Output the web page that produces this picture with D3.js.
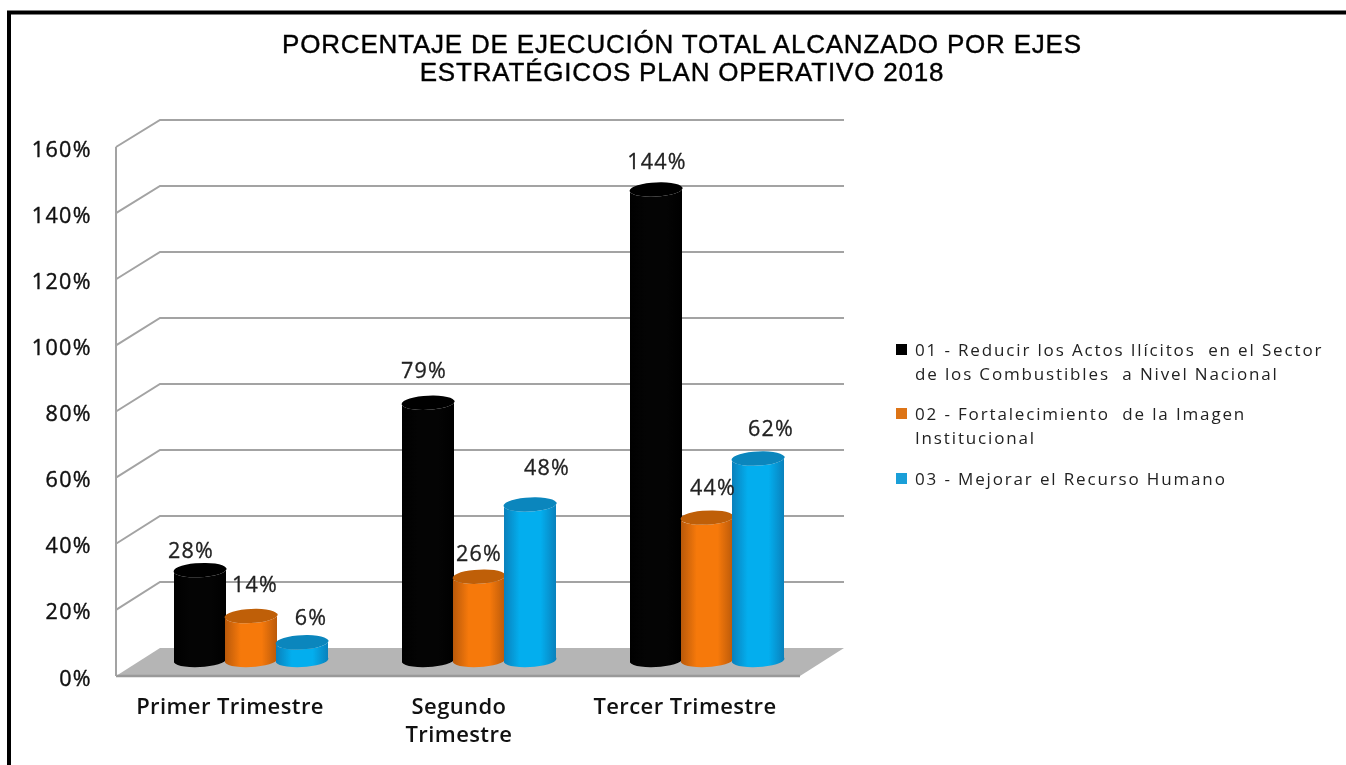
<!DOCTYPE html>
<html>
<head>
<meta charset="utf-8" />
<title>Porcentaje de ejecución</title>
<script src="https://cdn.jsdelivr.net/npm/d3@7"></script>
<style>
  html, body { margin: 0; padding: 0; background: #fff; }
  svg { display: block; filter: blur(0.45px); }
</style>
</head>
<body>
<script>
var titleLines = ["PORCENTAJE DE EJECUCIÓN TOTAL ALCANZADO POR EJES", "ESTRATÉGICOS PLAN OPERATIVO 2018"];
var categories = ["Primer Trimestre", "Segundo Trimestre", "Tercer Trimestre"];
var categoryLines = [["Primer Trimestre"], ["Segundo", "Trimestre"], ["Tercer Trimestre"]];
var seriesKeys = ["s01", "s02", "s03"];
var seriesLabels = [
  ["01 - Reducir los Actos Ilícitos  en el Sector", "de los Combustibles  a Nivel Nacional"],
  ["02 - Fortalecimiento  de la Imagen", "Institucional"],
  ["03 - Mejorar el Recurso Humano"]
];
var s01 = [28, 79, 144];
var s02 = [14, 26, 44];
var s03 = [6, 48, 62];
var yTicks = [0, 20, 40, 60, 80, 100, 120, 140, 160];

var w = 1346, h = 765;
var values = [s01, s02, s03];

// 3 colours per series: edge of the cylinder, middle of it, and the lid
var colors = [
  { edge: "#000000", mid: "#040404", lid: "#000000", key: "#000000" },
  { edge: "#b9590a", mid: "#f6790b", lid: "#bf5f08", key: "#dd7416" },
  { edge: "#0a80bb", mid: "#03aeee", lid: "#0b86bd", key: "#1a9fd8" }
];

// label nudges, the labels in the picture are hand placed around the bars
var labelDx = [[-9, 4, 9], [-4, 0, 17], [1, 6, 13]];
var labelDy = [[-1, -13, -6], [-14, -5, -19], [-10, -12, -12]];
var xLabelDx = [-21, -20, -22];

var frontY = d3.scaleLinear().domain([0, 160]).range([676, 147]);
var backY = d3.scaleLinear().domain([0, 160]).range([648, 120]);
var barY = d3.scaleLinear().domain([0, 160]).range([662, 137]);
var x0 = d3.scaleBand().domain(categories).range([137, 821]);
var x1 = d3.scaleBand().domain(seriesKeys).range([-76.5, 76.5]);

var svg = d3.select("body").append("svg")
  .attr("width", w)
  .attr("height", h);

var defs = svg.append("defs");
colors.forEach(function(c, i) {
  var g = defs.append("linearGradient").attr("id", "cyl" + i);
  g.append("stop").attr("offset", "0%").attr("stop-color", c.edge);
  g.append("stop").attr("offset", "30%").attr("stop-color", c.mid);
  g.append("stop").attr("offset", "70%").attr("stop-color", c.mid);
  g.append("stop").attr("offset", "100%").attr("stop-color", c.edge);
});

// outer frame, only top and left show
svg.append("path")
  .attr("d", "M9,765V12.5H1346")
  .attr("fill", "none")
  .attr("stroke", "#000")
  .attr("stroke-width", 4);

// title
svg.append("g").selectAll("text")
  .data(titleLines)
  .enter().append("text")
  .attr("x", 682)
  .attr("y", function(d, i) { return 53 + i * 28; })
  .attr("text-anchor", "middle")
  .style("font-family", "'Liberation Sans', Arial, sans-serif")
  .style("font-size", "26px")
  .style("letter-spacing", "0.8px")
  .attr("fill", "#000")
  .attr("stroke", "#000")
  .attr("stroke-width", 0.4)
  .text(function(d) { return d; });

// floor
var fl = backY(0), fr = frontY(0);
svg.append("path")
  .attr("d", "M116," + fr + "L160," + fl + "H844L800," + fr + "Z")
  .attr("fill", "#b5b5b5");
svg.append("path")
  .attr("d", "M116," + fr + "H800")
  .attr("stroke", "#999")
  .attr("stroke-width", 2.5)
  .attr("fill", "none");

// wall grid
var grid = svg.append("g").attr("fill", "none").attr("stroke", "#a3a3a3").attr("stroke-width", 2);
grid.selectAll("path.wall")
  .data(yTicks.slice(1))
  .enter().append("path")
  .attr("class", "wall")
  .attr("d", function(d) {
    return "M116," + frontY(d) + "L160," + backY(d) + "H844";
  });
grid.append("path").attr("d", "M116," + frontY(160) + "V" + frontY(0));

// y axis
var yAxis = svg.append("g")
  .attr("transform", "translate(116,0)")
  .call(d3.axisLeft(frontY).tickValues(yTicks).tickSize(0).tickPadding(24)
    .tickFormat(function(d) { return d + "%"; }));
yAxis.select(".domain").remove();
yAxis.selectAll("text")
  .attr("dy", "0.42em")
  .style("font-family", "'Open Sans', sans-serif")
  .style("font-size", "21.5px")
  .style("letter-spacing", "1.4px")
  .attr("fill", "#111")
  .attr("stroke", "#111")
  .attr("stroke-width", 0.4);

// x labels
var xLabels = svg.append("g");
categories.forEach(function(cat, i) {
  xLabels.append("text")
    .attr("y", 714)
    .attr("text-anchor", "middle")
    .style("font-family", "'Open Sans', sans-serif")
    .style("font-size", "22px")
    .style("font-weight", 600)
    .style("letter-spacing", "0.4px")
    .attr("fill", "#111")
    .selectAll("tspan")
    .data(categoryLines[i])
    .enter().append("tspan")
    .attr("x", x0(cat) + x0.bandwidth() / 2 + xLabelDx[i])
    .attr("dy", function(d, j) { return j ? 28 : 0; })
    .text(function(d) { return d; });
});

// cylinders
var rx = x1.bandwidth() / 2 + 0.5, ry = 7, tilt = 2.5, rot = -3;
function sidePath(cx, top, bottom) {
  return "M" + (cx - rx) + "," + (top + tilt) +
    "L" + (cx - rx) + "," + (bottom + tilt) +
    "A" + rx + "," + ry + " " + rot + " 0 0 " + (cx + rx) + "," + (bottom - tilt) +
    "L" + (cx + rx) + "," + (top - tilt) +
    "A" + rx + "," + ry + " " + rot + " 0 1 " + (cx - rx) + "," + (top + tilt) + "Z";
}
function lidPath(cx, top) {
  return "M" + (cx - rx) + "," + (top + tilt) +
    "A" + rx + "," + ry + " " + rot + " 1 1 " + (cx + rx) + "," + (top - tilt) +
    "A" + rx + "," + ry + " " + rot + " 1 1 " + (cx - rx) + "," + (top + tilt) + "Z";
}

var barsG = svg.append("g");
var labelsG = svg.append("g");
categories.forEach(function(cat, c) {
  seriesKeys.forEach(function(key, s) {
    var v = values[s][c];
    var cx = x0(cat) + x0.bandwidth() / 2 + x1(key) + x1.bandwidth() / 2;
    var top = barY(v), bottom = barY(0) - 2;
    barsG.append("path")
      .attr("d", sidePath(cx, top, bottom))
      .attr("fill", "url(#cyl" + s + ")");
    barsG.append("path")
      .attr("d", lidPath(cx, top))
      .attr("fill", colors[s].lid);
    labelsG.append("text")
      .attr("x", cx + labelDx[c][s])
      .attr("y", top - 11 + labelDy[c][s])
      .attr("text-anchor", "middle")
      .style("font-family", "'Open Sans', sans-serif")
      .style("font-size", "21.5px")
      .style("letter-spacing", "1.2px")
      .attr("fill", "#222")
      .attr("stroke", "#222")
      .attr("stroke-width", 0.3)
      .text(v + "%");
  });
});

// legend
var legend = svg.append("g");
var legendTop = [350, 414, 479];
seriesLabels.forEach(function(lines, i) {
  legend.append("rect")
    .attr("x", 896).attr("y", legendTop[i] - 6)
    .attr("width", 11).attr("height", 11)
    .attr("fill", colors[i].key);
  legend.append("text")
    .attr("y", legendTop[i] + 6)
    .style("font-family", "'Open Sans', sans-serif")
    .style("font-size", "17px")
    .style("letter-spacing", "1.85px")
    .style("white-space", "pre")
    .attr("fill", "#222")
    .selectAll("tspan")
    .data(lines)
    .enter().append("tspan")
    .attr("x", 915)
    .attr("dy", function(d, j) { return j ? 24 : 0; })
    .text(function(d) { return d; });
});
</script>
</body>
</html>
